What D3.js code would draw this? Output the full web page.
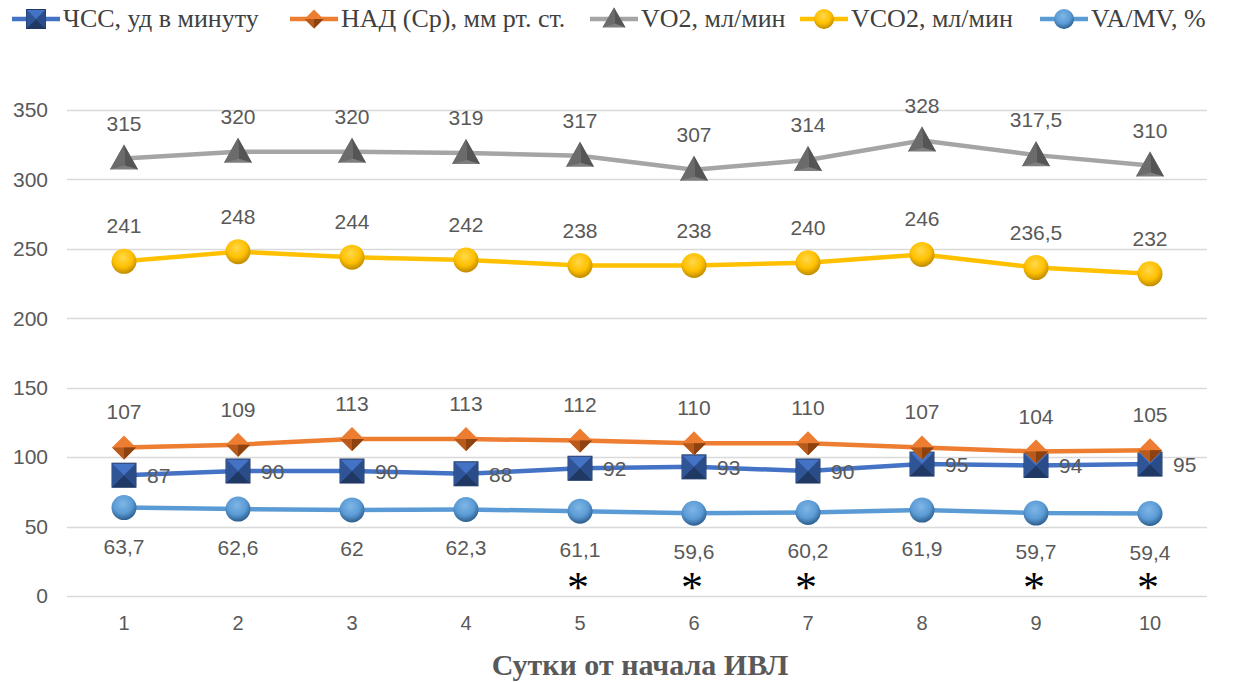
<!DOCTYPE html>
<html>
<head>
<meta charset="utf-8">
<script src="https://cdn.jsdelivr.net/npm/d3@7"></script>
<style>
  body { margin: 0; background: #fff; }
  svg { display: block; }
</style>
</head>
<body>
<script>
// data
var days = [1, 2, 3, 4, 5, 6, 7, 8, 9, 10];
var hr = [87, 90, 90, 88, 92, 93, 90, 95, 94, 95];                 // ЧСС
var map = [107, 109, 113, 113, 112, 110, 110, 107, 104, 105];      // НАД (Ср)
var vo2 = [315, 320, 320, 319, 317, 307, 314, 328, 317.5, 310];
var vco2 = [241, 248, 244, 242, 238, 238, 240, 246, 236.5, 232];
var vamv = [63.7, 62.6, 62, 62.3, 61.1, 59.6, 60.2, 61.9, 59.7, 59.4];
var yTicks = [0, 50, 100, 150, 200, 250, 300, 350];
var starDays = [5, 6, 7, 9, 10];

var series = [
  {name: "ЧСС, уд в минуту", values: hr, color: "#4472C4", dark: "#203864", light: "#5b87d6", marker: "square", label: "right"},
  {name: "НАД (Ср), мм рт. ст.", values: map, color: "#ED7D31", dark: "#a04a10", light: "#f5a060", marker: "diamond", label: "above"},
  {name: "VO2, мл/мин", values: vo2, color: "#A5A5A5", dark: "#555555", light: "#a0a0a0", marker: "triangle", label: "above"},
  {name: "VCO2, мл/мин", values: vco2, color: "#FFC000", dark: "#b07f00", light: "#ffd84a", marker: "circle", label: "above"},
  {name: "VA/MV, %", values: vamv, color: "#5B9BD5", dark: "#24517f", light: "#7fb6e6", marker: "circle", label: "below"}
];

var W = 1242, H = 682;
var svg = d3.select("body").append("svg").attr("width", W).attr("height", H);

var defs = svg.append("defs");
series.forEach(function(s, i) {
  var gr = defs.append("radialGradient").attr("id", "grad" + i)
      .attr("cx", "0.45").attr("cy", "0.35").attr("r", "0.7");
  gr.append("stop").attr("offset", "0%").attr("stop-color", s.light);
  gr.append("stop").attr("offset", "55%").attr("stop-color", s.color);
  gr.append("stop").attr("offset", "100%").attr("stop-color", s.dark);
});

var x = d3.scaleBand().domain(days).range([67, 1207]);
var y = d3.scaleLinear().domain([0, 350]).range([596, 110]);
function cx(d) { return x(d) + x.bandwidth() / 2; }

// grid
svg.append("g").selectAll("line").data(yTicks).enter().append("line")
    .attr("x1", 67).attr("x2", 1207)
    .attr("y1", function(d) { return Math.round(y(d)) + 0.5; })
    .attr("y2", function(d) { return Math.round(y(d)) + 0.5; })
    .attr("stroke", "#d9d9d9").attr("stroke-width", 1.3);

// axes
var yAxis = svg.append("g").attr("transform", "translate(67,0)")
    .call(d3.axisLeft(y).tickValues(yTicks).tickSize(0).tickPadding(19));
yAxis.select(".domain").remove();
yAxis.selectAll("text").attr("font-family", "Liberation Sans, Arial, sans-serif")
    .attr("font-size", 21).attr("fill", "#595959");

var xAxis = svg.append("g").attr("transform", "translate(0,596)")
    .call(d3.axisBottom(x).tickSize(0).tickPadding(20));
xAxis.select(".domain").remove();
xAxis.selectAll("text").attr("font-family", "Liberation Sans, Arial, sans-serif")
    .attr("font-size", 20).attr("fill", "#595959");

svg.append("text").attr("x", 640).attr("y", 675).attr("text-anchor", "middle")
    .attr("font-family", "Liberation Serif, Times New Roman, serif")
    .attr("font-weight", "bold").attr("font-size", 30).attr("fill", "#595959")
    .text("Сутки от начала ИВЛ");

function drawMarker(g, s, i, size) {
  var fill = "url(#grad" + i + ")";
  var h = size / 2;
  if (s.marker === "square") {
    g.append("rect").attr("x", -h).attr("y", -h).attr("width", size).attr("height", size)
        .attr("fill", s.color).attr("stroke", s.dark).attr("stroke-width", 1);
    g.append("path").attr("d", "M" + (-h) + "," + (-h) + "L0,0L" + (-h) + "," + h + "Z").attr("fill", "#2f5597");
    g.append("path").attr("d", "M" + h + "," + (-h) + "L0,0L" + h + "," + h + "Z").attr("fill", "#2a4c88");
    g.append("path").attr("d", "M" + (-h) + "," + h + "L0,0L" + h + "," + h + "Z").attr("fill", "#203864");
  } else if (s.marker === "diamond") {
    g.append("path").attr("d", "M0," + (-h) + "L" + h + ",0L0," + h + "L" + (-h) + ",0Z").attr("fill", s.color);
    g.append("path").attr("d", "M" + (-h) + ",0L" + h + ",0L0," + h + "Z").attr("fill", "#b85a1c");
    g.append("path").attr("d", "M0,0L" + h + ",0L0," + h + "Z").attr("fill", "#8e4210");
  } else if (s.marker === "triangle") {
    g.append("path").attr("d", "M0," + (-h - 2) + "L" + (h + 2) + "," + (h - 1) + "L" + (-h - 2) + "," + (h - 1) + "Z").attr("fill", "#7f7f7f");
    g.append("path").attr("d", "M0," + (-h - 2) + "L" + (h + 2) + "," + (h - 1) + "L1," + (h - 5) + "Z").attr("fill", "#555");
    g.append("path").attr("d", "M0," + (-h - 2) + "L1," + (h - 5) + "L" + (-h - 2) + "," + (h - 1) + "Z").attr("fill", "#6b6b6b");
  } else {
    g.append("circle").attr("r", h).attr("fill", fill);
  }
}

var line = d3.line().x(function(d, i) { return cx(days[i]); }).y(function(d) { return y(d); });
var labelFmt = function(v) { return String(v).replace(".", ","); };

series.forEach(function(s, i) {
  var g = svg.append("g");
  g.append("path").datum(s.values).attr("d", line)
      .attr("fill", "none").attr("stroke", s.color).attr("stroke-width", 4.5);
  var size = s.marker === "circle" ? 25 : 24;
  g.selectAll(".m").data(s.values).enter().append("g")
      .attr("transform", function(d, j) { return "translate(" + cx(days[j]) + "," + y(d) + ")"; })
      .each(function() { drawMarker(d3.select(this), s, i, size); });
  g.selectAll(".lbl").data(s.values).enter().append("text")
      .attr("x", function(d, j) { return s.label === "right" ? cx(days[j]) + 23 : cx(days[j]); })
      .attr("y", function(d) {
        if (s.label === "above") return y(d) - 28;
        if (s.label === "below") return y(d) + 46;
        return y(d) + 8;
      })
      .attr("text-anchor", s.label === "right" ? "start" : "middle")
      .attr("font-family", "Liberation Sans, Arial, sans-serif")
      .attr("font-size", 21).attr("fill", "#595959")
      .text(labelFmt);
});

// significance marks
svg.append("g").selectAll("text").data(starDays).enter().append("text")
    .attr("x", function(d) { return cx(d) - 2; }).attr("y", 602)
    .attr("text-anchor", "middle").attr("font-family", "Liberation Serif, Times New Roman, serif")
    .attr("font-size", 44).attr("fill", "#000").text("*");

// legend
var legendX = [12, 290, 590, 800, 1040];
var leg = svg.append("g").selectAll("g").data(series).enter().append("g")
    .attr("transform", function(d, i) { return "translate(" + legendX[i] + ",19)"; });
leg.append("line").attr("x1", 0).attr("x2", 48).attr("stroke", function(d) { return d.color; }).attr("stroke-width", 4.5);
leg.each(function(d) {
  var gi = series.indexOf(d);
  var m = d3.select(this).append("g").attr("transform", "translate(24,0)");
  drawMarker(m, d, gi, d.marker === "circle" ? 20 : 19);
});
leg.append("text").attr("x", 51).attr("y", 8)
    .attr("font-family", "Liberation Serif, Times New Roman, serif")
    .attr("font-size", 26).attr("fill", "#404040")
    .text(function(d) { return d.name; });
</script>
</body>
</html>
